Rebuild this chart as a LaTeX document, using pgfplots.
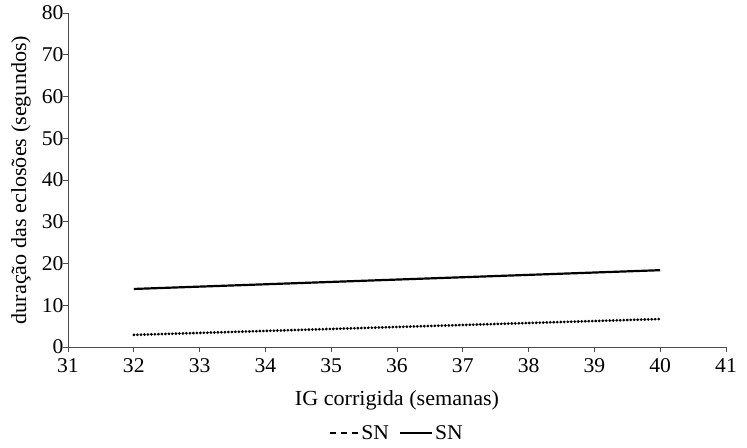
\documentclass[border=0pt]{standalone}
\usepackage{pgfplots}
\pgfplotsset{compat=1.18}
\usepackage{fontspec}
\setmainfont{Liberation Serif}[FakeStretch=1.03]
\pgfplotsset{shortleg/.style={legend image code/.code={\draw[##1] (0pt,0pt) -- (28pt,0pt);}}}
\begin{document}
\begin{tikzpicture}
\begin{axis}[
  scale only axis,
  width=658pt, height=334pt,
  xmin=31, xmax=41, ymin=0, ymax=80,
  xtick={31,...,41}, ytick={0,10,...,80},
  axis x line=bottom, axis y line=left,
  axis line style={-, gray!60!black, line width=0.8pt},
  tick style={gray!60!black, line width=0.8pt},
  tick align=outside, major tick length=5pt,
  /pgf/number format/assume math mode=true,
  ticklabel style={font=\fontsize{21}{24}\selectfont},
  xticklabel style={yshift=-3pt},
  yticklabel style={xshift=4pt},
  xlabel={IG corrigida (semanas)},
  ylabel={duração das eclosões (segundos)},
  label style={font=\fontsize{21.5}{24}\selectfont},
  xlabel style={at={(axis description cs:0.5,-0.159)}, anchor=center},
  ylabel style={at={(axis description cs:-0.0714,0.5)}, anchor=center},
  legend style={draw=none, fill=none, at={(axis description cs:0.5,-0.257)}, anchor=center, font=\fontsize{21}{24}\selectfont, legend columns=2, inner sep=0pt, /tikz/every even column/.append style={column sep=8pt}},
  legend image code/.code={\draw[#1] (0pt,0pt) -- (32pt,0pt);},
  clip=false,
]
\addplot[black, line width=2.8pt, line cap=round, dash pattern=on 0.3pt off 3.2pt, forget plot] coordinates {(32,2.9) (40,6.7)};
\addlegendimage{black, line width=2.2pt, dash pattern=on 6pt off 5pt, shortleg}
\addlegendentry{SN}
\addplot[black, line width=2.2pt] coordinates {(32,13.9) (40,18.4)};
\addlegendentry{SN}
\path (axis description cs:-0.1033,1.0389) rectangle (axis description cs:1.0319,-0.2994);
\end{axis}
\end{tikzpicture}
\end{document}
